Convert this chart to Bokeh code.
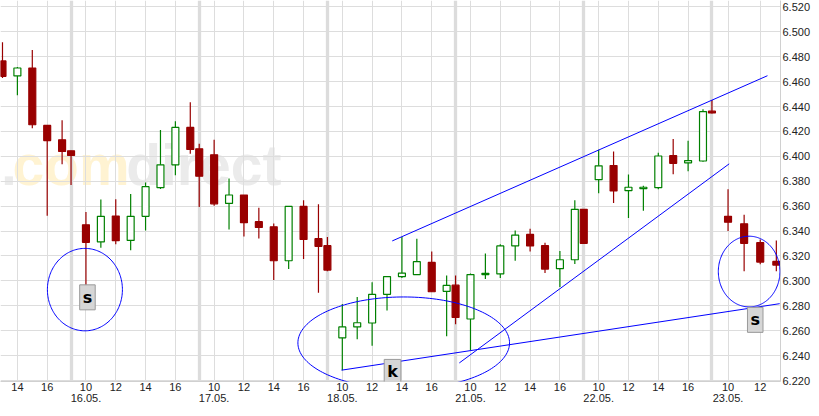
import numpy as np
from bokeh.plotting import figure
from bokeh.models import (Range1d, FixedTicker, LinearAxis, Grid, Label,
                          PolyAnnotation, NumeralTickFormatter, ColumnDataSource)
from bokeh.embed import file_html
from bokeh.resources import INLINE

# ---------------- data ----------------
days = ["15.05.", "16.05.", "17.05.", "18.05.", "21.05.", "22.05.", "23.05."]
full_day = [10, 11, 12, 13, 14, 15, 16, 17, 17.6]   # 17.6 = closing auction candle

candle_day = (["15.05."] * 6 + ["16.05."] * 9 + ["17.05."] * 9 + ["18.05."] * 9 +
              ["21.05."] * 9 + ["22.05."] * 9 + ["23.05."] * 4)
candle_hour = [13, 14, 15, 16, 17, 17.6] + full_day * 5 + [10, 11, 12, 13]

opens = [
    6.4767, 6.4646, 6.4710, 6.4249, 6.4133, 6.4045,
    6.3450, 6.3313, 6.3521, 6.3325, 6.3519, 6.3749, 6.3932, 6.4233, 6.4061,
    6.4013, 6.3622, 6.3690, 6.3476, 6.3434, 6.3162, 6.3598, 6.3339, 6.3283,
    6.2543, 6.2630, 6.2662, 6.2892, 6.3035, 6.3051, 6.3148, 6.2916, 6.2966,
    6.2694, 6.3051, 6.3056, 6.3281, 6.3373, 6.3283, 6.3098, 6.3170, 6.3575,
    6.3813, 6.3926, 6.3725, 6.3741, 6.3749, 6.4006, 6.3948, 6.3963, 6.4363,
    6.3519, 6.3458, 6.3307, 6.3156]
highs = [
    6.4916, 6.4718, 6.4855, 6.4249, 6.4291, 6.4045,
    6.3553, 6.3654, 6.3656, 6.3698, 6.3791, 6.4212, 6.4283, 6.4434, 6.4101,
    6.4133, 6.3823, 6.3690, 6.3587, 6.3460, 6.3598, 6.3648, 6.3615, 6.3352,
    6.2815, 6.2870, 6.2990, 6.3035, 6.3352, 6.3339, 6.3236, 6.3043, 6.3043,
    6.3059, 6.3220, 6.3294, 6.3405, 6.3418, 6.3307, 6.3241, 6.3648, 6.3575,
    6.4053, 6.4040, 6.3855, 6.3765, 6.4029, 6.4140, 6.4125, 6.4379, 6.4452,
    6.3736, 6.3532, 6.3333, 6.3325]
lows = [
    6.4630, 6.4492, 6.4225, 6.3524, 6.3937, 6.3770,
    6.2950, 6.3267, 6.3294, 6.3246, 6.3405, 6.3738, 6.3849, 6.4021, 6.3593,
    6.3603, 6.3413, 6.3357, 6.3341, 6.3008, 6.3095, 6.3175, 6.2905, 6.3077,
    6.2283, 6.2532, 6.2479, 6.2762, 6.3024, 6.3051, 6.2913, 6.2556, 6.2651,
    6.2442, 6.3016, 6.3024, 6.3162, 6.3236, 6.3064, 6.2950, 6.3135, 6.3302,
    6.3704, 6.3625, 6.3506, 6.3563, 6.3736, 6.3857, 6.3881, 6.3956, 6.4344,
    6.3400, 6.3077, 6.3133, 6.3077]
closes = [
    6.4643, 6.4710, 6.4254, 6.4127, 6.4040, 6.4008,
    6.3310, 6.3519, 6.3323, 6.3519, 6.3757, 6.3932, 6.4233, 6.4056, 6.3841,
    6.3619, 6.3690, 6.3468, 6.3429, 6.3162, 6.3598, 6.3333, 6.3278, 6.3087,
    6.2630, 6.2664, 6.2892, 6.3035, 6.3063, 6.3154, 6.2913, 6.2964, 6.2706,
    6.3051, 6.3061, 6.3281, 6.3368, 6.3281, 6.3095, 6.3170, 6.3575, 6.3302,
    6.3924, 6.3722, 6.3752, 6.3752, 6.4003, 6.3944, 6.3966, 6.4360, 6.4349,
    6.3471, 6.3302, 6.3151, 6.3127]

tick_hours = [10, 12, 14, 16]
price_ticks = [round(6.22 + 0.02 * i, 3) for i in range(16)]

# trend lines drawn on the chart (day, hour, price) start -> end
line_day0 = ["18.05.", "21.05.", "18.05."]
line_hour0 = [13.35, 9.25, 9.95]
line_price0 = [6.3321, 6.2341, 6.2283]
line_day1 = ["23.05.", "23.05.", "23.05."]
line_hour1 = [12.45, 10.07, 13.21]
line_price1 = [6.4648, 6.3940, 6.2817]

# marked areas (day, hour, price of centre)
mark_day = ["16.05.", "18.05.", "23.05."]
mark_hour = [9.93, 14.12, 11.31]
mark_price = [6.2930, 6.2502, 6.3075]

# signal labels
sig_text = ["s", "k", "s"]
sig_day = ["16.05.", "18.05.", "23.05."]
sig_hour = [10.1, 13.37, 11.69]
sig_price = [6.2868, 6.2269, 6.2687]

# ---------------- layout constants ----------------
DAY_MIN = 516                 # width of one trading day slot (minutes)
HOUR_SCALE = {"23.05.": 1.08}  # last day drawn slightly wider
BODY_W = 28
MARK_RX = [151, 426, 124]      # minutes
MARK_RY = [0.0331, 0.0369, 0.0284]


def xpos(day, hour):
    k = days.index(day) - 1
    s = HOUR_SCALE.get(day, 1.0)
    return round(k * DAY_MIN + (hour - 9) * 60 * s, 3)


X0, X1 = -284, 2856
Y0, Y1 = 6.2192, 6.5252

xs = [xpos(d, h) for d, h in zip(candle_day, candle_hour)]
up = [c > o for o, c in zip(opens, closes)]
RED, GREEN = "#990000", "#008000"
src = ColumnDataSource(dict(
    x=xs,
    top=[max(o, c) for o, c in zip(opens, closes)],
    bottom=[min(o, c) for o, c in zip(opens, closes)],
    high=highs, low=lows,
    color=[GREEN if u else RED for u in up],
    fill=["white" if u else RED for u in up],
))

p = figure(frame_width=780, frame_height=381,
           x_range=Range1d(X0, X1), y_range=Range1d(Y0, Y1),
           y_axis_location="right", output_backend="svg", toolbar_location=None,
           min_border_left=0, min_border_top=0, min_border_right=31, min_border_bottom=27)
p.outline_line_color = None
p.background_fill_color = "white"
p.border_fill_color = "white"

# ticks
hour_pos, hour_lab = [], {}
for d in days:
    for h in tick_hours:
        x = xpos(d, h)
        if X0 < x < X1:
            hour_pos.append(x)
            hour_lab[x] = str(h)
date_pos, date_lab = [], {}
for d in days:
    x = xpos(d, 10)
    if X0 < x < X1:
        date_pos.append(x)
        date_lab[x] = d
bounds = [xpos(d, 9) for d in days if X0 < xpos(d, 9) < X1]

AXIS_FONT = "Liberation Sans"
xa = p.xaxis[0]
xa.ticker = FixedTicker(ticks=hour_pos)
xa.major_label_overrides = hour_lab
xa.axis_line_color = "#d0d0d0"
xa.major_tick_in = 0
xa.major_tick_out = 0
xa.minor_tick_line_color = None
xa.major_label_standoff = 1
xa.major_label_text_font = AXIS_FONT
xa.major_label_text_font_size = "11px"
xa.major_label_text_color = "#222222"

da = LinearAxis(ticker=FixedTicker(ticks=date_pos), major_label_overrides=date_lab,
                axis_line_color=None, major_tick_in=0, major_tick_out=0,
                minor_tick_line_color=None, major_label_standoff=0,
                major_label_text_font=AXIS_FONT, major_label_text_font_size="11px",
                major_label_text_color="#222222")
p.add_layout(da, "below")

ya = p.yaxis[0]
ya.ticker = FixedTicker(ticks=price_ticks)
ya.formatter = NumeralTickFormatter(format="0.000")
ya.axis_line_color = "#d0d0d0"
ya.major_tick_in = 0
ya.major_tick_out = 0
ya.minor_tick_line_color = None
ya.major_label_standoff = 2
ya.major_label_text_font = AXIS_FONT
ya.major_label_text_font_size = "11px"
ya.major_label_text_color = "#222222"

p.xgrid.ticker = FixedTicker(ticks=hour_pos)
p.xgrid.grid_line_color = "#dddddd"
p.ygrid.ticker = FixedTicker(ticks=price_ticks)
p.ygrid.grid_line_color = "#dddddd"
p.add_layout(Grid(dimension=0, ticker=FixedTicker(ticks=bounds),
                  grid_line_color="#dcdcdc", grid_line_width=3.3))

# watermark
WM_FONT = "Liberation Sans"
WM_SIZE = "57px"
wm_y = 6.3929
for tx, wx, col in [(".", -282, "#ebebeb"), ("com", -236, "#fff3d2"), ("direct", 222, "#ebebeb")]:
    p.add_layout(Label(x=wx, y=wm_y, text=tx, text_align="left", text_baseline="alphabetic",
                       text_font=WM_FONT, text_font_style="bold", text_font_size=WM_SIZE,
                       text_color=col, level="image"))

# candles
p.segment(x0="x", y0="low", x1="x", y1="high", line_color="color", line_width=1.2, source=src)
p.vbar(x="x", width=BODY_W, top="top", bottom="bottom", fill_color="fill",
       line_color="color", line_width=1.2, source=src)

# trend lines
p.segment(x0=[xpos(d, h) for d, h in zip(line_day0, line_hour0)], y0=line_price0,
          x1=[xpos(d, h) for d, h in zip(line_day1, line_hour1)], y1=line_price1,
          line_color="#0000ff", line_width=1)

# ellipses
t = np.linspace(0, 2 * np.pi, 181)
for d, h, pr, rx, ry in zip(mark_day, mark_hour, mark_price, MARK_RX, MARK_RY):
    cx = xpos(d, h)
    p.add_layout(PolyAnnotation(xs=list(cx + rx * np.cos(t)), ys=list(pr + ry * np.sin(t)),
                                fill_color=None, fill_alpha=0, line_color="#0000ff",
                                line_alpha=1.0, line_width=1))

# signal boxes
for tx, d, h, pr in zip(sig_text, sig_day, sig_hour, sig_price):
    p.add_layout(Label(x=xpos(d, h), y=pr, text=tx, text_align="center", text_baseline="middle",
                       text_font="DejaVu Sans", text_font_style="bold", text_font_size="16px",
                       text_color="black", background_fill_color="#d6d6d6",
                       border_line_color="#9a9a9a", border_line_width=1, padding=3))

open("out.html", "w").write(file_html(p, INLINE))
